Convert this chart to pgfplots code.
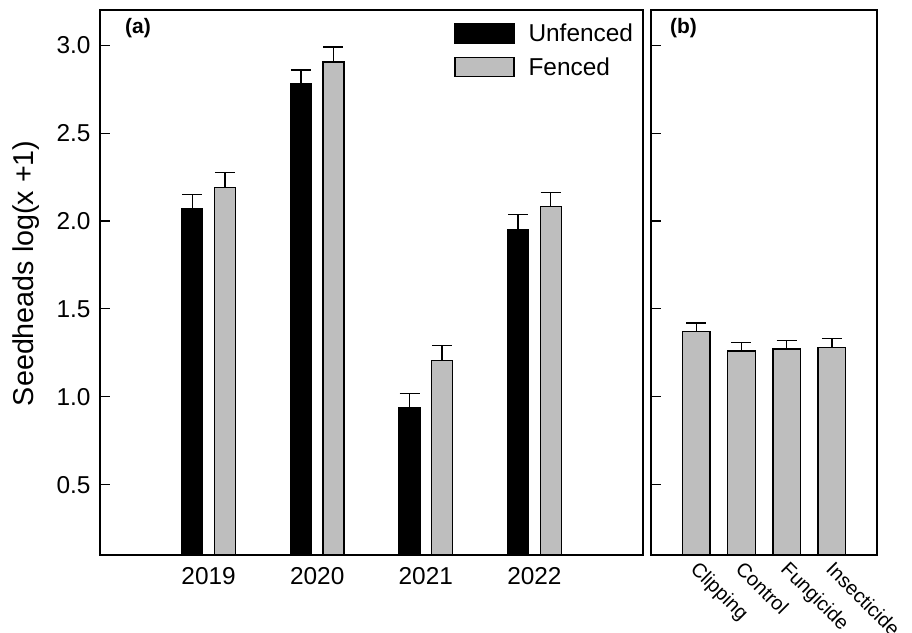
\documentclass[border=0pt]{standalone}
\usepackage{pgfplots}
\pgfplotsset{compat=1.18}
\usepackage{fontspec}
\setmainfont{Liberation Sans}

\definecolor{barGrey}{RGB}{190,190,190}

% Seedhead counts by year, mean and standard error
% (x: year slot 1..4, moved 0.15 to the side of its group)
\pgfplotstableread{
x     y     e
0.85  2.07  0.080
1.85  2.78  0.078
2.85  0.94  0.080
3.85  1.953 0.085
}\unfenced
\pgfplotstableread{
x     y     e
1.15  2.19  0.085
2.15  2.905 0.085
3.15  1.205 0.085
4.15  2.081 0.082
}\fenced
% Seedhead counts by treatment
\pgfplotstableread{
x  y     e
1  1.371 0.048
2  1.261 0.048
3  1.271 0.049
4  1.280 0.050
}\treatment

\pgfplotsset{
  seedstyle/.style={
    scale only axis,
    height=545bp,
    ymin=0.1, ymax=3.2,
    xmin=0, xmax=5,
    axis line style={line width=1.2bp},
    ytick={0.5,1.0,1.5,2.0,2.5,3.0},
    ytick pos=left,
    tick align=inside,
    major tick length=10bp,
    tick style={line width=1.1bp, black},
    xtick style={draw=none},
    clip=true,
    error bars/y dir=plus,
    error bars/y explicit,
    error bars/error bar style={line width=1.4bp, black},
    error bars/error mark options={rotate=90, line width=1.4bp, mark size=10bp, black},
  },
}

\begin{document}
\begin{tikzpicture}
\useasboundingbox (0,0) rectangle (912bp,633bp);

% (a) by year
\begin{axis}[seedstyle,
  at={(100bp,78bp)}, anchor=south west,
  width=543bp,
  xtick={1,2,3,4},
  xticklabels={2019,2020,2021,2022},
  xticklabel style={font=\fontsize{24.5}{28}\selectfont, yshift=-9bp},
  yticklabel style={font=\fontsize{24.5}{28}\selectfont, xshift=-6bp},
  /pgf/number format/assume math mode=true,
  yticklabel={\pgfmathprintnumber[fixed,fixed zerofill,precision=1]{\tick}},
  ylabel={Seedheads log(x +1)},
  every axis y label/.style={at={(axis description cs:-0.136,0.517)}, rotate=90, anchor=center,
    font=\fontsize{28.8}{32}\selectfont},
  legend style={draw=none, fill=none, inner sep=0pt,
    at={(rel axis cs:0.652,0.978)}, anchor=north west,
    font=\fontsize{24.5}{28}\selectfont,
    row sep=10bp,
    nodes={inner sep=2bp}},
  legend cell align=left,
  legend image code/.code={\draw[#1, line width=1.3bp] (0bp,-9.7bp) rectangle (59bp,9.7bp);},
  /tikz/every odd column/.append style={column sep=12bp},
]
\addplot[ybar, bar width=21bp, bar shift=0pt, fill=black, draw=black, line width=1.3bp]
  table[x=x, y=y, y error=e] {\unfenced};
\addlegendentry{Unfenced}
\addplot[ybar, bar width=21bp, bar shift=0pt, fill=barGrey, draw=black, line width=1.3bp]
  table[x=x, y=y, y error=e] {\fenced};
\addlegendentry{Fenced}
\node[anchor=north west, inner sep=0pt, font=\fontsize{21}{24}\selectfont\bfseries]
  at (rel axis cs:0.046,0.985) {(a)};
\end{axis}

% (b) by treatment
\begin{axis}[seedstyle,
  at={(651bp,78bp)}, anchor=south west,
  width=226bp,
  xtick={1,2,3,4},
  xticklabels={Clipping,Control,Fungicide,Insecticide},
  xticklabel style={font=\fontsize{20}{24}\selectfont, rotate=-45, anchor=north west, inner sep=0pt, xshift=6bp, yshift=-1bp},
  yticklabels={},
]
\addplot[ybar, bar width=27.5bp, bar shift=0pt, fill=barGrey, draw=black, line width=1.3bp]
  table[x=x, y=y, y error=e] {\treatment};
\node[anchor=north west, inner sep=0pt, font=\fontsize{21}{24}\selectfont\bfseries]
  at (rel axis cs:0.084,0.985) {(b)};
\end{axis}
\end{tikzpicture}
\end{document}
